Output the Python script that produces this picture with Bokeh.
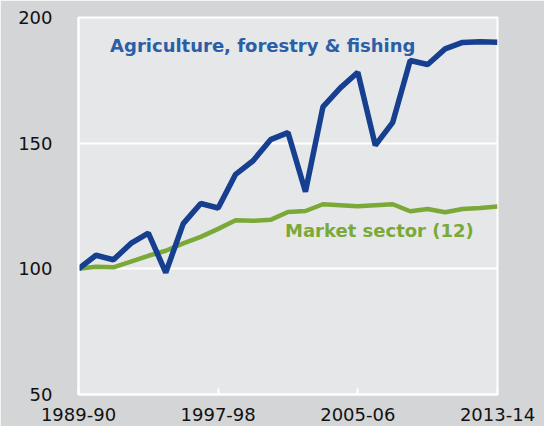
from bokeh.plotting import figure
from bokeh.models import Range1d, FixedTicker, Label
from bokeh.embed import file_html
from bokeh.resources import INLINE

years = list(range(1989, 2014))
agriculture = [100.0, 105.4, 103.6, 110.1, 114.2, 98.5, 118.0, 126.0, 124.2, 137.6,
               143.0, 151.4, 154.2, 130.7, 164.4, 172.0, 178.2, 149.1, 158.3, 182.9,
               181.3, 187.5, 190.1, 190.4, 190.2]
market = [100.0, 100.8, 100.6, 102.9, 105.2, 107.2, 110.1, 112.7, 115.9, 119.3,
          119.1, 119.5, 122.6, 123.0, 125.7, 125.3, 124.9, 125.3, 125.7, 122.9,
          123.8, 122.5, 123.8, 124.2, 124.8]
x_ticks = [1989, 1997, 2005, 2013]
x_tick_labels = ["1989-90", "1997-98", "2005-06", "2013-14"]
y_ticks = [50, 100, 150, 200]

BLUE = "#173f8f"
GREEN = "#7aa938"
FONT = "DejaVu Sans"

p = figure(width=544, height=426, output_backend="svg", toolbar_location=None,
           x_range=Range1d(1989, 2013), y_range=Range1d(50, 200),
           min_border_left=78, min_border_right=47, min_border_top=17, min_border_bottom=32)
p.border_fill_color = "#d4d5d7"
p.background_fill_color = "#e6e7e9"
p.outline_line_color = "white"
p.outline_line_width = 2

p.xaxis.ticker = FixedTicker(ticks=x_ticks)
p.xaxis.major_label_overrides = {t: l for t, l in zip(x_ticks, x_tick_labels)}
p.yaxis.ticker = FixedTicker(ticks=y_ticks)
for ax in (p.xaxis, p.yaxis):
    ax.axis_line_color = "white"
    ax.axis_line_width = 2
    ax.major_tick_line_color = "white"
    ax.major_tick_line_width = 2
    ax.minor_tick_line_color = None
    ax.major_tick_out = 0
    ax.major_label_text_font = FONT
    ax.major_label_text_font_size = "18px"
    ax.major_label_text_color = "#111111"
p.xaxis.major_tick_in = 6
p.yaxis.major_tick_in = 0
p.xaxis.major_label_standoff = 13
p.yaxis.major_label_standoff = 26

p.xgrid.grid_line_color = None
p.ygrid.grid_line_color = "white"
p.ygrid.grid_line_width = 2
p.ygrid.ticker = FixedTicker(ticks=y_ticks)

p.line(years, market, line_color=GREEN, line_width=4.5)
p.line(years, agriculture, line_color=BLUE, line_width=5.5)

p.add_layout(Label(x=1990.81, y=188.9, text="Agriculture, forestry & fishing",
                   text_font=FONT, text_font_style="bold", text_font_size="18px",
                   text_color="#2a5ea6", text_baseline="middle"))
p.add_layout(Label(x=2000.83, y=115.2, text="Market sector (12)",
                   text_font=FONT, text_font_style="bold", text_font_size="18px",
                   text_color=GREEN, text_baseline="middle"))

open("out.html", "w").write(file_html(p, INLINE))
